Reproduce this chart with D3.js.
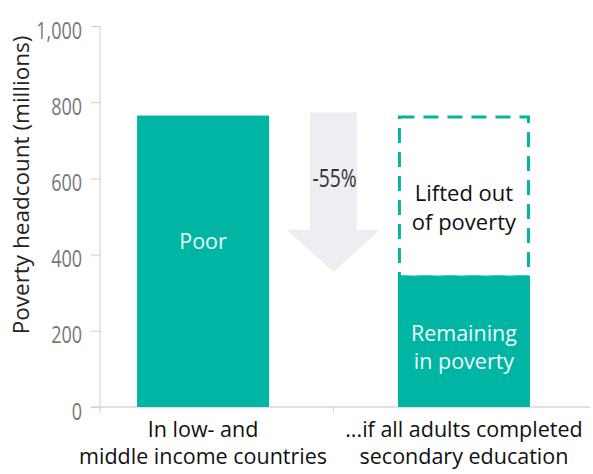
<!DOCTYPE html>
<html>
<head>
<meta charset="utf-8">
<script src="https://cdn.jsdelivr.net/npm/d3@7"></script>
<style>
  body { margin: 0; background: #fff; }
  text { font-family: "Open Sans", "Noto Sans", sans-serif; }
</style>
</head>
<body>
<div id="chart"></div>
<script>
// chart values
var categories = ["In low- and\nmiddle income countries", "...if all adults completed\nsecondary education"];
var poorValues = [765, 345];
var liftedValues = [0, 420];
var barLabels = ["Poor", "Remaining\nin poverty"];
var yTicks = [0, 200, 400, 600, 800, 1000];
var changeLabel = "-55%";

var width = 593, height = 474;
var margin = {top: 26, right: 26, bottom: 67, left: 100};
var teal = "#00b5a3";

var svg = d3.select('#chart').append('svg')
    .attr('width', width).attr('height', height);

var x = d3.scaleBand().domain(categories)
    .range([margin.left, width - margin.right]).paddingInner(0.494).paddingOuter(0.142);
var y = d3.scaleLinear().domain([0, 1000]).range([height - margin.bottom, margin.top]);

// axes
var yAxis = svg.append('g').attr('transform', 'translate(' + margin.left + ',0)')
    .call(d3.axisLeft(y).tickValues(yTicks).tickSize(9).tickFormat(d3.format(",")));
yAxis.select('.domain').attr('d', 'M0,' + y(1000) + 'V' + (y(0) + 6)).attr('stroke', '#cfcfcf');
yAxis.selectAll('.tick line').attr('stroke', '#cfcfcf');
yAxis.selectAll('.tick text')
    .attr('x', null).attr('dy', null)
    .attr('font-size', 24).attr('fill', '#777')
    .attr('text-anchor', 'end')
    .attr('transform', 'translate(-18,12) scale(0.75,1)');

svg.append('line')
    .attr('x1', margin.left - 9).attr('x2', width - 3)
    .attr('y1', y(0)).attr('y2', y(0))
    .attr('stroke', '#d6d6d6').attr('stroke-width', 1.5);
var midX = (x(categories[0]) + x.bandwidth() + x(categories[1])) / 2;
svg.append('line')
    .attr('x1', midX).attr('x2', midX)
    .attr('y1', y(0)).attr('y2', y(0) + 6)
    .attr('stroke', '#d6d6d6');

svg.append('text')
    .attr('transform', 'translate(29,185) rotate(-90)')
    .attr('text-anchor', 'middle')
    .attr('font-size', 22.5).attr('fill', '#222')
    .text('Poverty headcount (millions)');

// dashed outline of the lifted part, drawn first so the bar covers its bottom edge
svg.selectAll('rect.lifted').data(categories.filter(function(d, i) { return liftedValues[i] > 0; }))
    .enter().append('rect')
    .attr('class', 'lifted')
    .attr('x', function(d) { return x(d) + 1.5; })
    .attr('width', x.bandwidth() - 3)
    .attr('y', function(d) { var i = categories.indexOf(d); return y(poorValues[i] + liftedValues[i]) + 1.5; })
    .attr('height', function(d) { var i = categories.indexOf(d); return y(poorValues[i]) - y(poorValues[i] + liftedValues[i]); })
    .attr('fill', 'none').attr('stroke', teal).attr('stroke-width', 3)
    .attr('stroke-dasharray', '15,9');

// bars
svg.selectAll('rect.poor').data(categories).enter().append('rect')
    .attr('class', 'poor')
    .attr('x', function(d) { return x(d); })
    .attr('width', x.bandwidth())
    .attr('y', function(d, i) { return y(poorValues[i]); })
    .attr('height', function(d, i) { return y(0) - y(poorValues[i]); })
    .attr('fill', teal);

// labels (first baseline at y, following lines lh lower)
function addLines(sx, sy, str, lh, size, fill) {
    var t = svg.append('text').attr('x', sx).attr('y', sy)
        .attr('text-anchor', 'middle').attr('font-size', size).attr('fill', fill);
    str.split('\n').forEach(function(l, k) {
        t.append('tspan').attr('x', sx).attr('dy', k == 0 ? 0 : lh).text(l);
    });
}
barLabels.forEach(function(lab, i) {
    var mid = (y(0) + y(poorValues[i])) / 2;
    addLines(x(categories[i]) + x.bandwidth() / 2, i == 0 ? mid - 12 : mid, lab, 28, 21.5, '#eefaf8');
});
addLines(x(categories[1]) + x.bandwidth() / 2,
    (y(poorValues[1]) + y(poorValues[1] + liftedValues[1])) / 2 + 5,
    "Lifted out\nof poverty", 29, 22, '#111');

// category labels
categories.forEach(function(c) {
    addLines(x(c) + x.bandwidth() / 2, y(0) + 30, c, 27, 21.5, '#111');
});

// arrow between bars
var aTop = y(poorValues[0]) - 3, aHead = y(465), aTip = y(354);
svg.append('path')
    .attr('d', 'M' + (midX - 23.5) + ',' + aTop + 'H' + (midX + 23.5) + 'V' + aHead +
        'H' + (midX + 46.5) + 'L' + midX + ',' + aTip + 'L' + (midX - 46.5) + ',' + aHead +
        'H' + (midX - 23.5) + 'Z')
    .attr('fill', '#eceef1');
svg.append('text')
    .attr('text-anchor', 'middle')
    .attr('font-size', 26).attr('fill', '#333')
    .attr('transform', 'translate(' + (midX + 1) + ',187) scale(0.74,1)')
    .text(changeLabel);
</script>
</body>
</html>
